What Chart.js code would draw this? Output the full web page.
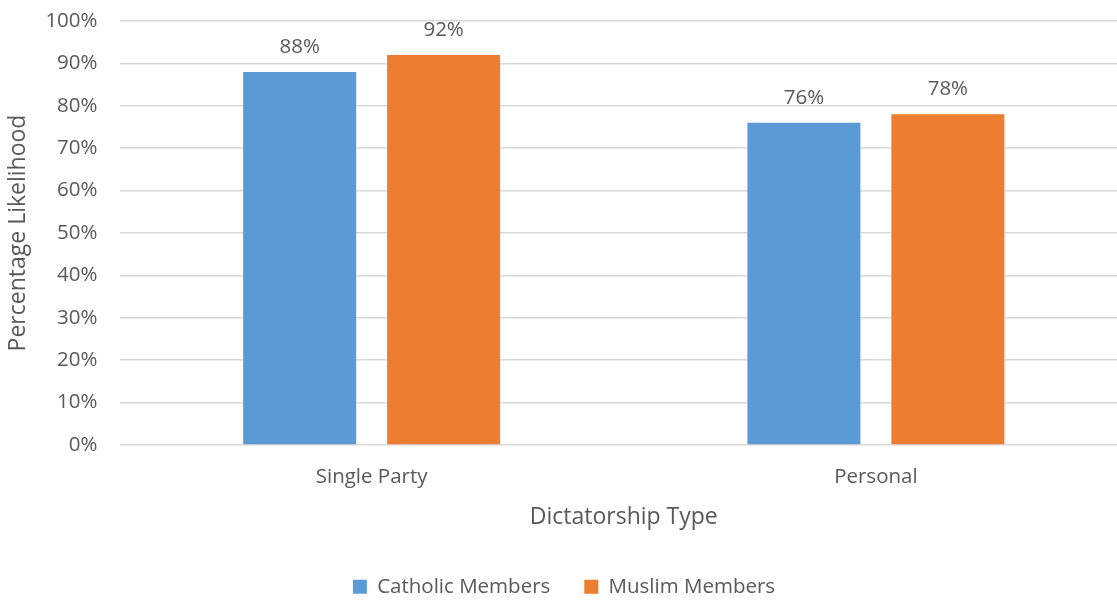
<!DOCTYPE html>
<html>
<head>
<meta charset="utf-8">
<script src="https://cdn.jsdelivr.net/npm/chart.js@4/dist/chart.umd.min.js"></script>
<style>
  html, body { margin: 0; padding: 0; background: #fff; overflow: hidden; }
  #wrap { position: relative; width: 1117px; height: 601px; overflow: hidden; }
</style>
</head>
<body>
<div id="wrap"><canvas id="chart" width="1130" height="608"></canvas></div>
<script>
const categories = ["Single Party", "Personal"];
const catholicValues = [88, 76];
const muslimValues = [92, 78];
const seriesNames = ["Catholic Members", "Muslim Members"];
const yTicks = [0, 10, 20, 30, 40, 50, 60, 70, 80, 90, 100];

const FONT = "'Open Sans', Lato, sans-serif";
const TEXT = "#595959";

// value labels above each bar
const barLabels = {
  id: "barLabels",
  afterDatasetsDraw(chart) {
    const ctx = chart.ctx;
    ctx.save();
    ctx.font = "20.5px " + FONT;
    ctx.fillStyle = TEXT;
    ctx.textAlign = "center";
    ctx.textBaseline = "alphabetic";
    chart.data.datasets.forEach((ds, i) => {
      chart.getDatasetMeta(i).data.forEach((bar, j) => {
        ctx.fillText(ds.data[j] + "%", bar.x, bar.y - 19);
      });
    });
    ctx.restore();
  },
};

new Chart(document.getElementById("chart"), {
  type: "bar",
  data: {
    labels: categories,
    datasets: [
      {
        label: seriesNames[0],
        data: catholicValues,
        backgroundColor: "#5B9BD5",
        categoryPercentage: 0.571,
        barPercentage: 0.785,
      },
      {
        label: seriesNames[1],
        data: muslimValues,
        backgroundColor: "#ED7D31",
        categoryPercentage: 0.571,
        barPercentage: 0.785,
      },
    ],
  },
  options: {
    responsive: false,
    animation: false,
    layout: { padding: { top: 21, right: 2, bottom: 1, left: 0 } },
    scales: {
      x: {
        grid: { display: false },
        border: { display: false },
        ticks: { color: TEXT, font: { family: FONT, size: 20.5 }, padding: 12 },
        title: {
          display: true,
          text: "Dictatorship Type",
          color: TEXT,
          font: { family: FONT, size: 23 },
          padding: { top: 0, bottom: 11.7 },
        },
        afterFit(scale) { scale.height = 97.5; },
      },
      y: {
        min: 0,
        max: 100,
        afterBuildTicks(scale) { scale.ticks = yTicks.map((v) => ({ value: v })); },
        grid: { color: "#d9d9d9", lineWidth: 1.5, drawTicks: false },
        border: { display: false },
        ticks: {
          color: TEXT,
          font: { family: FONT, size: 20.5 },
          padding: 22,
          callback: (v) => v + "%",
        },
        title: {
          display: true,
          text: "Percentage Likelihood",
          color: TEXT,
          font: { family: FONT, size: 23 },
          padding: { top: 5, bottom: 0 },
        },
        afterFit(scale) {
          scale.width = 119.5;
          scale.paddingTop = 0;
          scale.paddingBottom = 0;
        },
      },
    },
    plugins: {
      legend: {
        position: "bottom",
        labels: {
          color: TEXT,
          font: { family: FONT, size: 20.5 },
          boxWidth: 14,
          boxHeight: 14,
          padding: 34,
        },
      },
      tooltip: { enabled: false },
    },
  },
  plugins: [barLabels],
});
</script>
</body>
</html>
